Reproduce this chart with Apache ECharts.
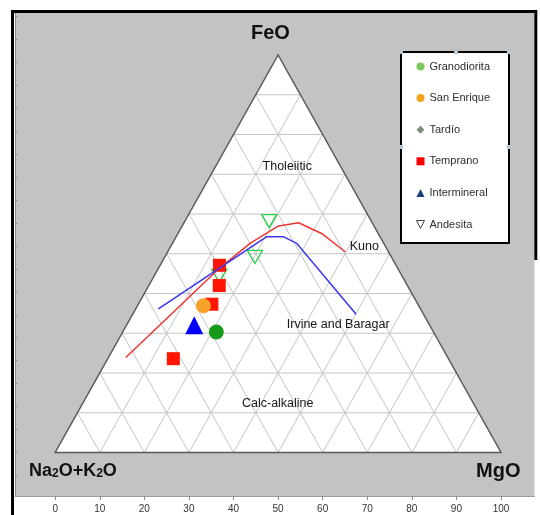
<!DOCTYPE html>
<html>
<head>
<meta charset="utf-8">
<script src="https://cdn.jsdelivr.net/npm/echarts@6/dist/echarts.min.js"></script>
<style>
html,body{margin:0;padding:0;background:#ffffff;}
#chart{width:540px;height:515px;}
</style>
</head>
<body>
<div id="chart"></div>
<script>
// AFM compositions, each point as [Na2O+K2O, FeO, MgO]
const granodiorita = [[48.7, 30.3, 21.0]];
const sanEnrique = [[48.3, 36.9, 14.8]];
const tardio = [];
const temprano = [[39.6, 47.1, 13.3], [42.2, 42.0, 15.8], [46.2, 37.3, 16.5], [61.7, 23.6, 14.7]];
const intermineral = [[52.8, 32.0, 15.2]];
const andesita = [[22.9, 58.2, 18.9], [30.6, 49.2, 20.2], [41.0, 44.4, 14.6]];

// Tholeiitic / calc-alkaline dividing lines
const kunoLine = [[72.2, 23.9, 3.9], [40.8, 45.8, 13.4], [30.0, 52.6, 17.4], [21.4, 57.0, 21.6],
                  [16.5, 57.8, 25.7], [12.7, 55.1, 32.2], [9.7, 50.5, 39.8]];
const irvineLine = [[58.8, 36.1, 5.1], [25.4, 54.3, 20.3], [21.7, 54.3, 24.0],
                    [19.5, 52.6, 27.9], [15.1, 34.8, 50.1]];

const xTickLabels = [0, 10, 20, 30, 40, 50, 60, 70, 80, 90, 100];
const yTickValues = [-5, 0, 5, 10, 15, 20, 25, 30, 35, 40, 45, 50, 55, 60, 65, 70, 75, 80, 85, 90, 95];

const SQ = Math.sqrt(3) / 2;
// ternary [A, F, M] -> plane [x, y]; base runs A (x=0) to M (x=100), F at apex
function toXY(p) {
  const s = p[0] + p[1] + p[2];
  const F = p[1] / s * 100, M = p[2] / s * 100;
  return [M + F / 2, F * SQ];
}
const conv = arr => arr.map(toXY);

const chart = echarts.init(document.getElementById('chart'), null, {renderer: 'canvas'});

// triangle body and 10% grid lines
function renderTriangle(params, api) {
  const c = (a, f, m) => api.coord(toXY([a, f, m]));
  const children = [];
  children.push({
    type: 'polygon',
    shape: {points: [c(100, 0, 0), c(0, 0, 100), c(0, 100, 0)]},
    style: {fill: '#ffffff', stroke: null}
  });
  const gridStyle = {stroke: '#c4c4c4', lineWidth: 1, fill: null};
  for (let k = 10; k < 100; k += 10) {
    const a1 = c(100 - k, k, 0), a2 = c(0, k, 100 - k);
    const b1 = c(100 - k, 0, k), b2 = c(0, 100 - k, k);
    const d1 = c(k, 0, 100 - k), d2 = c(k, 100 - k, 0);
    children.push({type: 'line', shape: {x1: a1[0], y1: a1[1], x2: a2[0], y2: a2[1]}, style: gridStyle});
    children.push({type: 'line', shape: {x1: b1[0], y1: b1[1], x2: b2[0], y2: b2[1]}, style: gridStyle});
    children.push({type: 'line', shape: {x1: d1[0], y1: d1[1], x2: d2[0], y2: d2[1]}, style: gridStyle});
  }
  children.push({
    type: 'polygon',
    shape: {points: [c(100, 0, 0), c(0, 0, 100), c(0, 100, 0)]},
    style: {fill: null, stroke: '#5a5a5a', lineWidth: 1.5}
  });
  return {type: 'group', children: children};
}

const labelFont = {fontFamily: 'Liberation Sans, Arial, sans-serif', fontSize: 12.5, color: '#151515',
                   textBorderWidth: 0, opacity: 1};

const option = {
  animation: false,
  backgroundColor: '#ffffff',
  grid: {left: 15, right: 5.5, top: 13, bottom: 19, show: true, backgroundColor: '#c3c3c3', borderWidth: 0},
  xAxis: {
    type: 'value', min: -9.01, max: 107.51,
    splitLine: {show: false},
    axisLine: {show: true, onZero: false, lineStyle: {color: '#9a9a9a', width: 1}},
    axisTick: {show: true, length: 4, lineStyle: {color: '#8a8a8a'}, customValues: xTickLabels},
    axisLabel: {customValues: xTickLabels, fontSize: 10, color: '#333333', margin: 8,
                fontFamily: 'Liberation Sans, Arial, sans-serif'}
  },
  yAxis: {
    type: 'value', min: -9.48, max: 95.75,
    splitLine: {show: false},
    axisLine: {show: true, onZero: false, lineStyle: {color: '#8a8a8a', width: 1}},
    axisTick: {show: true, inside: true, length: 2, lineStyle: {color: '#7a7a7a'}, customValues: yTickValues},
    axisLabel: {show: false}
  },
  legend: {
    orient: 'vertical', left: 416, top: 61, padding: 0,
    itemWidth: 8, itemHeight: 8, itemGap: 20.6,
    selectedMode: false, z: 10,
    textStyle: {fontSize: 11, color: '#2e2e2e', fontFamily: 'Liberation Sans, Arial, sans-serif'},
    data: [
      {name: 'Granodiorita', icon: 'circle', itemStyle: {color: '#7cc95a', borderWidth: 0, opacity: 1}},
      {name: 'San Enrique', icon: 'circle', itemStyle: {color: '#f5a21f', borderWidth: 0, opacity: 1}},
      {name: 'Tardío', icon: 'diamond', itemStyle: {color: '#7d907a', borderWidth: 0, opacity: 1}},
      {name: 'Temprano', icon: 'rect', itemStyle: {color: '#ff0000', borderWidth: 0, opacity: 1}},
      {name: 'Intermineral', icon: 'triangle', itemStyle: {color: '#1d3e78', borderWidth: 0, opacity: 1}},
      {name: 'Andesita', icon: 'path://M0,0L10,0L5,10Z',
       itemStyle: {color: 'rgba(0,0,0,0)', borderColor: '#444444', borderWidth: 1, opacity: 1}}
    ]
  },
  graphic: [
    // outer frame
    {type: 'line', shape: {x1: 12.5, y1: 10, x2: 12.5, y2: 515}, style: {stroke: '#000', lineWidth: 3}, z: 20},
    {type: 'line', shape: {x1: 11, y1: 11.5, x2: 537, y2: 11.5}, style: {stroke: '#000', lineWidth: 3}, z: 20},
    {type: 'line', shape: {x1: 535.8, y1: 10, x2: 535.8, y2: 260}, style: {stroke: '#000', lineWidth: 3}, z: 20},
    // legend box
    {type: 'rect', shape: {x: 401, y: 52, width: 108, height: 191},
     style: {fill: '#ffffff', stroke: '#000000', lineWidth: 2}, z: 5},
    {type: 'rect', shape: {x: 400, y: 51, width: 3, height: 3}, style: {fill: '#b7c7d3'}, z: 6},
    {type: 'rect', shape: {x: 454, y: 51, width: 4, height: 3}, style: {fill: '#b7c7d3'}, z: 6},
    {type: 'rect', shape: {x: 507, y: 51, width: 3, height: 3}, style: {fill: '#b7c7d3'}, z: 6},
    {type: 'rect', shape: {x: 400, y: 145, width: 3, height: 4}, style: {fill: '#b7c7d3'}, z: 6},
    {type: 'rect', shape: {x: 507, y: 145, width: 3, height: 4}, style: {fill: '#b7c7d3'}, z: 6},
    // vertex names
    {type: 'text', left: 251, top: 23, z: 20,
     style: {text: 'FeO', fontFamily: 'Liberation Sans, Arial, sans-serif', fontWeight: 'bold', fontSize: 20, fill: '#111'}},
    {type: 'text', left: 476, top: 461, z: 20,
     style: {text: 'MgO', fontFamily: 'Liberation Sans, Arial, sans-serif', fontWeight: 'bold', fontSize: 20, fill: '#111'}},
    {type: 'text', left: 29, top: 462, z: 20,
     style: {
       text: '{a|Na}{s|2}{a|O+K}{s|2}{a|O}',
       rich: {
         a: {fontFamily: 'Liberation Sans, Arial, sans-serif', fontWeight: 'bold', fontSize: 18, fill: '#111', lineHeight: 22, verticalAlign: 'bottom'},
         s: {fontFamily: 'Liberation Sans, Arial, sans-serif', fontWeight: 'bold', fontSize: 12, fill: '#111', lineHeight: 17, verticalAlign: 'bottom'}
       }
     }}
  ],
  series: [
    {type: 'custom', name: 'triangle', renderItem: renderTriangle, data: [[0, 0]], silent: true, z: 1,
     clip: false},
    {type: 'scatter', name: 'Andesita', data: conv(andesita), symbol: 'triangle', symbolRotate: 180, symbolSize: [15, 13],
     itemStyle: {color: 'rgba(0,0,0,0)', borderColor: '#2ed04e', borderWidth: 1.4, opacity: 1}, z: 3},
    {type: 'scatter', name: 'Temprano', data: conv(temprano), symbol: 'rect', symbolSize: 13,
     itemStyle: {color: '#ff1400', opacity: 1}, z: 3},
    {type: 'scatter', name: 'San Enrique', data: conv(sanEnrique), symbol: 'circle', symbolSize: 15,
     itemStyle: {color: '#f9a12a', opacity: 1}, z: 3},
    {type: 'scatter', name: 'Intermineral', data: conv(intermineral), symbol: 'triangle', symbolSize: [18, 18],
     itemStyle: {color: '#0000ff', opacity: 1}, z: 3},
    {type: 'scatter', name: 'Granodiorita', data: conv(granodiorita), symbol: 'circle', symbolSize: 15,
     itemStyle: {color: '#169a19', opacity: 1}, z: 3},
    {type: 'scatter', name: 'Tardío', data: conv(tardio), symbol: 'diamond', symbolSize: 8,
     itemStyle: {color: '#7d907a', opacity: 1}, z: 3},
    {type: 'line', name: 'Kuno', data: conv(kunoLine), showSymbol: false, symbol: 'none', smooth: false,
     lineStyle: {color: '#ee3535', width: 1.5}, z: 4, silent: true},
    {type: 'line', name: 'Irvine and Baragar', data: conv(irvineLine), showSymbol: false, symbol: 'none', smooth: false,
     lineStyle: {color: '#3a35ee', width: 1.5}, z: 4, silent: true},
    {type: 'scatter', name: 'fields', symbolSize: 0, silent: true, z: 4,
     itemStyle: {opacity: 1, color: '#151515'},
     label: {show: true, position: 'inside', ...labelFont, formatter: p => p.name},
     data: [
       {name: 'Tholeiitic', value: [52.05, 62.2]},
       {name: 'Kuno', value: [66.05, 44.84], label: {position: 'right', distance: 0}},
       {name: 'Irvine and Baragar', value: [51.94, 27.78], label: {position: 'right', distance: 0}},
       {name: 'Calc-alkaline', value: [49.92, 10.57]}
     ]}
  ]
};

chart.setOption(option);
</script>
</body>
</html>
